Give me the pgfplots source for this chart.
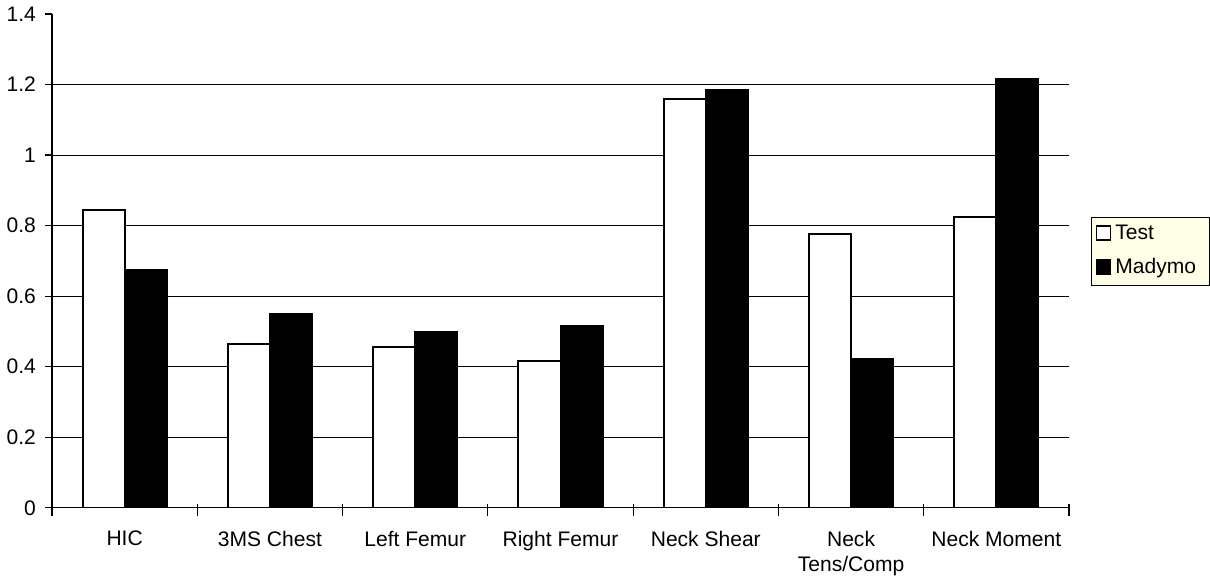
\documentclass[border=0pt]{standalone}
\usepackage{pgfplots}
\pgfplotsset{compat=1.18}
\usepackage{fontspec}
\setmainfont{Liberation Sans}
\definecolor{legbg}{RGB}{255,255,232}

\begin{document}
\begin{tikzpicture}
\begin{axis}[
    ybar=0pt,
    bar width=0.29,
    scale only axis,
    width=507.5pt,
    height=246.5pt,
    xmin=-0.5, xmax=6.5,
    ymin=0, ymax=1.4,
    axis x line*=bottom,
    axis y line*=left,
    axis line style={line width=0.6pt},
    xtick={0,...,6},
    xticklabels={HIC,3MS Chest,Left Femur,Right Femur,Neck Shear,Neck\\Tens/Comp,Neck Moment},
    major x tick style={draw=none},
    minor xtick={-0.5,0.5,1.5,2.5,3.5,4.5,5.5,6.5},
    minor x tick style={black,line width=0.6pt,yshift=2pt},
    ytick={0,0.2,0.4,0.6,0.8,1,1.2},
    extra y ticks={1.4},
    extra y tick style={grid=none},
    ymajorgrids,
    grid style={black,line width=0.5pt},
    tick align=outside,
    major tick length=3.5pt,
    minor tick length=6pt,
    y tick style={black,line width=0.6pt},
    tick label style={font=\fontsize{10.5}{12.5}\selectfont},
    /pgf/number format/assume math mode=true,
    yticklabel style={xshift=-1pt},
    xticklabel style={align=center,yshift=-4.5pt},
    legend style={at={(1.022,0.52)},anchor=west,draw=black,fill=legbg,
        font=\fontsize{10.5}{12.5}\selectfont,
        inner xsep=2pt,inner ysep=2pt,row sep=4pt,
        cells={anchor=west},text width=43pt},
    legend image code/.code={\draw[#1,line width=0.8pt] (0pt,-3pt) rectangle (7pt,4pt);},
  ]
  \addplot[draw=black,line width=1pt,fill=white] coordinates {(0,0.845)(1,0.465)(2,0.455)(3,0.415)(4,1.158)(5,0.775)(6,0.825)};
  \addplot[draw=black,line width=1pt,fill=black] coordinates {(0,0.675)(1,0.550)(2,0.498)(3,0.515)(4,1.185)(5,0.423)(6,1.215)};
  \legend{Test,Madymo}
\end{axis}
\end{tikzpicture}
\end{document}
